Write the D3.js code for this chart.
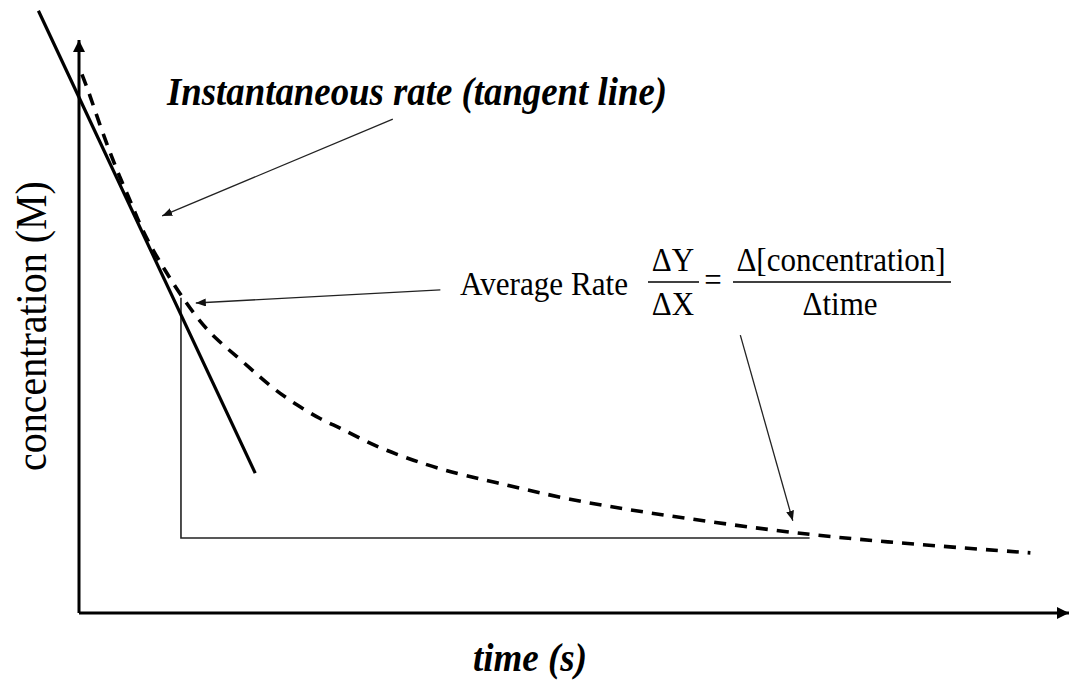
<!DOCTYPE html>
<html>
<head>
<meta charset="utf-8">
<script src="https://cdn.jsdelivr.net/npm/d3@7"></script>
<style>
  body { margin: 0; background: #fff; }
  text { font-family: "Liberation Serif", "Times New Roman", serif; fill: #000; }
</style>
</head>
<body>
<svg width="1070" height="682"></svg>
<script>
/**********************
 Data (x: 0-100 time units, y: 0-100 concentration units)
**********************/
// dashed concentration curve
var curveX = [0.3, 1.1, 2.1, 3.1, 4.1, 5.2, 6.2, 7.5, 8.9, 10.2, 11.9, 13.7, 16.0, 17.8, 19.8,
              22.0, 24.5, 26.4, 29.1, 31.7, 36.5, 41.8, 49.6, 57.4, 65.8, 74.1, 81.6, 89.7, 96.1];
var curveY = [94.0, 90.4, 85.2, 80.5, 76.1, 71.9, 67.5, 63.2, 59.2, 55.7, 51.5, 48.0, 44.7, 41.9, 38.9,
              36.3, 33.7, 32.3, 29.8, 27.9, 25.0, 22.9, 19.7, 17.5, 15.4, 13.6, 12.4, 11.3, 10.5];

// tangent line end points
var tangentX = [-4.1, 17.8];
var tangentY = [105.1, 24.4];

// the right angle under the average rate (dY, dX)
var rectX = [10.3, 10.3, 73.8];
var rectY = [55.0, 13.1, 13.1];

// annotation arrows: [tailX, tailY, headX, headY]
var arrows = [
  [31.7, 86.2, 8.4, 69.3],
  [36.5, 56.4, 11.8, 54.1],
  [66.8, 48.5, 72.1, 16.1]
];

var axisMax = 100;

/**********************
 Layout
**********************/
var svg = d3.select('svg');
var xScale = d3.scaleLinear().domain([0, 100]).range([79, 1069]);
var yScale = d3.scaleLinear().domain([0, 100]).range([613, 40]);

var defs = svg.append('defs');
defs.append('marker')
    .attr('id', 'head')
    .attr('markerUnits', 'userSpaceOnUse')
    .attr('markerWidth', 11).attr('markerHeight', 8)
    .attr('refX', 10).attr('refY', 4)
    .attr('orient', 'auto')
  .append('path')
    .attr('d', 'M0,0 L10,4 L0,8 Z')
    .attr('fill', '#111');
defs.append('marker')
    .attr('id', 'axisHead')
    .attr('markerUnits', 'userSpaceOnUse')
    .attr('markerWidth', 13).attr('markerHeight', 12)
    .attr('refX', 12).attr('refY', 6)
    .attr('orient', 'auto')
  .append('path')
    .attr('d', 'M0,0 L12,6 L0,12 Z')
    .attr('fill', '#000');

// axes
svg.append('line')
    .attr('x1', xScale(0)).attr('y1', yScale(0))
    .attr('x2', xScale(0)).attr('y2', yScale(axisMax))
    .attr('stroke', '#000').attr('stroke-width', 3)
    .attr('marker-end', 'url(#axisHead)');
svg.append('line')
    .attr('x1', xScale(0)).attr('y1', yScale(0))
    .attr('x2', xScale(axisMax)).attr('y2', yScale(0))
    .attr('stroke', '#000').attr('stroke-width', 3)
    .attr('marker-end', 'url(#axisHead)');

// dY / dX right angle
var rectPts = rectX.map(function(d, i) { return [d, rectY[i]]; });
svg.append('path')
    .attr('d', d3.line()
        .x(function(d) { return xScale(d[0]); })
        .y(function(d) { return yScale(d[1]); })(rectPts))
    .attr('fill', 'none')
    .attr('stroke', '#222').attr('stroke-width', 1.6);

// tangent line
svg.append('line')
    .attr('x1', xScale(tangentX[0])).attr('y1', yScale(tangentY[0]))
    .attr('x2', xScale(tangentX[1])).attr('y2', yScale(tangentY[1]))
    .attr('stroke', '#000').attr('stroke-width', 3.2);

// dashed curve
var curvePts = curveX.map(function(d, i) { return [d, curveY[i]]; });
svg.append('path')
    .attr('d', d3.line()
        .curve(d3.curveBasis)
        .x(function(d) { return xScale(d[0]); })
        .y(function(d) { return yScale(d[1]); })(curvePts))
    .attr('fill', 'none')
    .attr('stroke', '#000').attr('stroke-width', 3.6)
    .attr('stroke-dasharray', '12,9');

// annotation arrows
svg.selectAll('.arrow')
    .data(arrows)
  .enter().append('line')
    .attr('class', 'arrow')
    .attr('x1', function(d) { return xScale(d[0]); })
    .attr('y1', function(d) { return yScale(d[1]); })
    .attr('x2', function(d) { return xScale(d[2]); })
    .attr('y2', function(d) { return yScale(d[3]); })
    .attr('stroke', '#222').attr('stroke-width', 1.3)
    .attr('marker-end', 'url(#head)');

/**********************
 Text
**********************/
// the source glyphs are a little taller than normal, so stretch y a bit
function label(parent, x, y, str, stretch, rot) {
    return parent.append('text')
        .attr('transform', 'translate(' + [x, y] + ')' + (rot ? ' rotate(' + rot + ')' : '') +
              ' scale(1,' + stretch + ')')
        .text(str);
}

label(svg, 167, 105, 'Instantaneous rate (tangent line)', 1.1)
    .attr('font-size', 37).attr('font-weight', 'bold').attr('font-style', 'italic')
    .attr('textLength', 500).attr('lengthAdjust', 'spacingAndGlyphs');

label(svg, 530, 671, 'time (s)', 1.08)
    .attr('text-anchor', 'middle')
    .attr('font-size', 37).attr('font-weight', 'bold').attr('font-style', 'italic');

label(svg, 46, 326, 'concentration (M)', 1.1, -90)
    .attr('text-anchor', 'middle')
    .attr('font-size', 40);

// average rate formula
var f = svg.append('g').attr('font-size', 31);
label(f, 460, 295, 'Average Rate', 1.07).attr('textLength', 168).attr('lengthAdjust', 'spacingAndGlyphs');
label(f, 673, 271, '\u0394Y', 1.07).attr('text-anchor', 'middle');
label(f, 673, 315, '\u0394X', 1.07).attr('text-anchor', 'middle');
f.append('line').attr('x1', 648).attr('x2', 699).attr('y1', 282).attr('y2', 282)
    .attr('stroke', '#000').attr('stroke-width', 1.6);
label(f, 713, 291, '=', 1.07).attr('text-anchor', 'middle');
label(f, 841, 271, '\u0394[concentration]', 1.07).attr('text-anchor', 'middle');
label(f, 840, 315, '\u0394time', 1.07).attr('text-anchor', 'middle');
f.append('line').attr('x1', 733).attr('x2', 951).attr('y1', 282).attr('y2', 282)
    .attr('stroke', '#000').attr('stroke-width', 1.6);
</script>
</body>
</html>
